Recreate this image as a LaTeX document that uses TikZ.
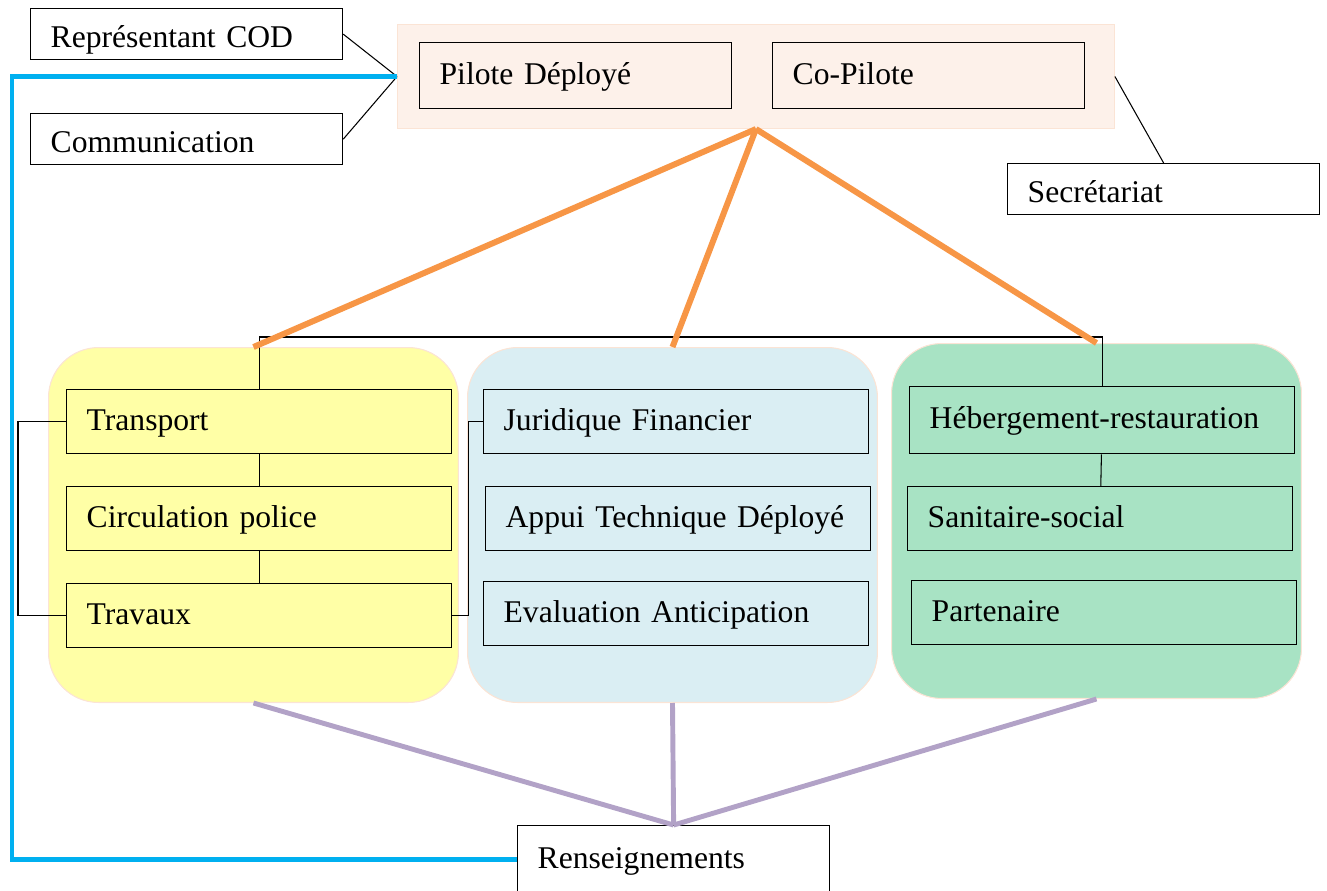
\documentclass[tikz,border=0pt]{standalone}
\usepackage{fontspec}
\setmainfont{Liberation Serif}
\definecolor{hqfill}{HTML}{FDF1EA}
\definecolor{hqborder}{HTML}{FBE4D5}
\definecolor{yellowfill}{HTML}{FFFFA6}
\definecolor{bluefill}{HTML}{DAEEF3}
\definecolor{greenfill}{HTML}{A8E3C4}
\definecolor{orangeline}{HTML}{F79646}
\definecolor{purpleline}{HTML}{B2A2C7}
\definecolor{cyanline}{HTML}{00B0F0}
\tikzset{
  cell/.style={
    rectangle,
    anchor=north west,
    align=left,
    draw=black,
    line width=0.75pt,
    inner xsep=4mm,
    inner ysep=0pt,
    text height=12pt,
    text depth=2pt,
    font=\fontsize{18}{20}\selectfont
  },
  wide/.style={cell, text width=69mm, minimum height=12.8mm},
  narrow/.style={cell, text width=54.4mm, minimum height=13.2mm},
  side/.style={narrow, minimum height=10.2mm, text height=15pt, text depth=0.3pt},
  group/.style={rectangle, anchor=north west, rounded corners=10mm, draw=hqborder, line width=0.6pt, minimum width=82mm, minimum height=71mm},
  link/.style={black, line width=0.6pt},
  branch/.style={orangeline, line width=3.4pt},
  gather/.style={purpleline, line width=2.8pt},
  feedback/.style={cyanline, line width=2.8pt}
}

\begin{document}
\begin{tikzpicture}[x=0.02cm, y=-0.02cm]
\useasboundingbox (0,0) rectangle (1327,890);

% Head office.
\node[group, rounded corners=0pt, fill=hqfill, minimum width=143.4mm, minimum height=20.8mm] (hq) at (397,24) {};
\node[narrow] (pilote) at (419,42) {Pilote Déployé};
\node[narrow] (copilote) at (772,42) {Co-Pilote};

% Side cells.
\node[side] (cod) at (30,8) {Représentant COD};
\node[side] (comm) at (30,113) {Communication};
\node[side] (secr) at (1007,163) {Secrétariat};

% Groups.
\node[group, fill=yellowfill] (grpA) at (48,347) {};
\node[group, fill=bluefill] (grpB) at (467,347) {};
\node[group, fill=greenfill] (grpC) at (891,343) {};

% Yellow group cells.
\node[wide, fill=yellowfill] (transport) at (66,389) {Transport};
\node[wide, fill=yellowfill] (circ) at (66,486) {Circulation police};
\node[wide, fill=yellowfill] (travaux) at (66,583) {Travaux};

% Blue group cells.
\node[wide, fill=bluefill] (juridique) at (483,389) {Juridique Financier};
\node[wide, fill=bluefill] (appui) at (485,486) {Appui Technique Déployé};
\node[wide, fill=bluefill] (eval) at (483,581) {Evaluation Anticipation};

% Green group cells.
\node[wide, fill=greenfill, minimum height=13.4mm] (heberg) at (909,386) {Hébergement-restauration};
\node[wide, fill=greenfill] (sanit) at (907,486) {Sanitaire-social};
\node[wide, fill=greenfill] (part) at (911,580) {Partenaire};

% Bottom cell.
\node[narrow, minimum height=13.6mm] (rens) at (517,825) {Renseignements};

% Thin links.
\draw[link] (cod.east) -- (hq.west);
\draw[link] (comm.east) -- (hq.west);
\draw[link] (hq.east) -- (secr.north);
\draw[link] (transport.north) -- ++(0,-52) -| (heberg.north);
\draw[link] (transport) -- (circ);
\draw[link] (circ) -- (travaux);
\draw[link] (heberg) -- (sanit);
\draw[link] (transport.west) -- ++(-48,0) |- (travaux.west);
\draw[link] (travaux.east) -- ++(16,0) |- (juridique.west);

% Branches from head office.
\draw[branch] (hq.south) -- (grpA.north);
\draw[branch] (hq.south) -- (grpB.north);
\draw[branch] (hq.south) -- (grpC.north);

% Gathering into Renseignements.
\draw[gather] (grpA.south) -- (rens.north);
\draw[gather] (grpB.south) -- (rens.north);
\draw[gather] (grpC.south) -- (rens.north);

% Feedback loop.
\draw[feedback] (hq.west) -- ++(-385,0) |- (rens.west);

\end{tikzpicture}
\end{document}
